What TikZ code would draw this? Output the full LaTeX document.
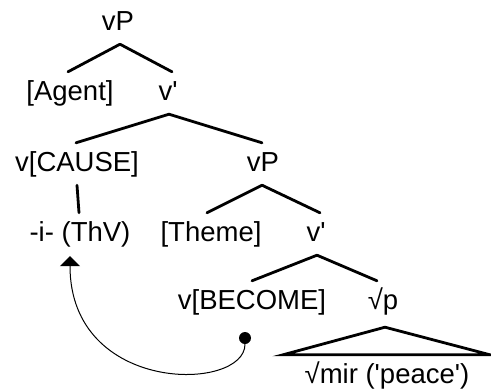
\documentclass[tikz,border=0pt]{standalone}
\usepackage{fontspec}
\setmainfont{Liberation Sans}
\usetikzlibrary{arrows.meta}
\begin{document}
\begin{tikzpicture}[x=1pt,y=-1pt,
  lbl/.style={anchor=base,inner xsep=0pt,inner ysep=7.5pt,text height=20.5pt,text depth=6.5pt,
    font=\fontsize{27.5}{32}\selectfont},
  br/.style={line width=2.8pt,line cap=round},
  thin/.style={line width=1pt}]
\useasboundingbox[fill=white] (0,0) rectangle (491,389);
\node[lbl] (vp1) at (118,30) {vP};
\node[lbl] (agent) at (70,100) {[Agent]};
\node[lbl] (vbar1) at (168,100) {v\textquotesingle};
\node[lbl] (cause) at (77,171) {v[CAUSE]};
\node[lbl] (vp2) at (263,171) {vP};
\node[lbl] (thv) at (80,241) {-i- (ThV)};
\node[lbl] (theme) at (211,241) {[Theme]};
\node[lbl] (vbar2) at (316,241) {v\textquotesingle};
\node[lbl] (become) at (252,309) {v[BECOME]};
\node[lbl] (rootp) at (383,309) {√p};
\node[lbl] (mir) at (387,383) {√mir (\textquotesingle peace\textquotesingle)};
\node[circle,fill=black,inner sep=0pt,minimum size=12pt] (dot) at (245,338) {};

\draw[br] ([xshift=2]vp1.south) -- ([xshift=-2]agent.north);
\draw[br] ([xshift=2]vp1.south) -- ([xshift=4]vbar1.north);
\draw[br] ([xshift=1]vbar1.south) -- ([xshift=-1]cause.north);
\draw[br] ([xshift=1]vbar1.south) -- ([xshift=-1]vp2.north);
\draw[br] (cause.south) -- ([xshift=-1]thv.north);
\draw[br] ([xshift=-1]vp2.south) -- ([xshift=-4]theme.north);
\draw[br] ([xshift=-1]vp2.south) -- ([xshift=4]vbar2.north);
\draw[br] ([xshift=1]vbar2.south) -- (become.north);
\draw[br] ([xshift=1]vbar2.south) -- ([xshift=-6]rootp.north);
\draw[br,line join=miter,line cap=butt] ([xshift=2,yshift=-4]rootp.south) -- ([xshift=-104]mir.north) -- ([xshift=103]mir.north) -- cycle;
\draw[thin,-{Triangle[width=20pt,length=10pt]}] (dot) .. controls (245,392) and (70,395) .. ([xshift=-10,yshift=-1]thv.south);
\end{tikzpicture}
\end{document}
